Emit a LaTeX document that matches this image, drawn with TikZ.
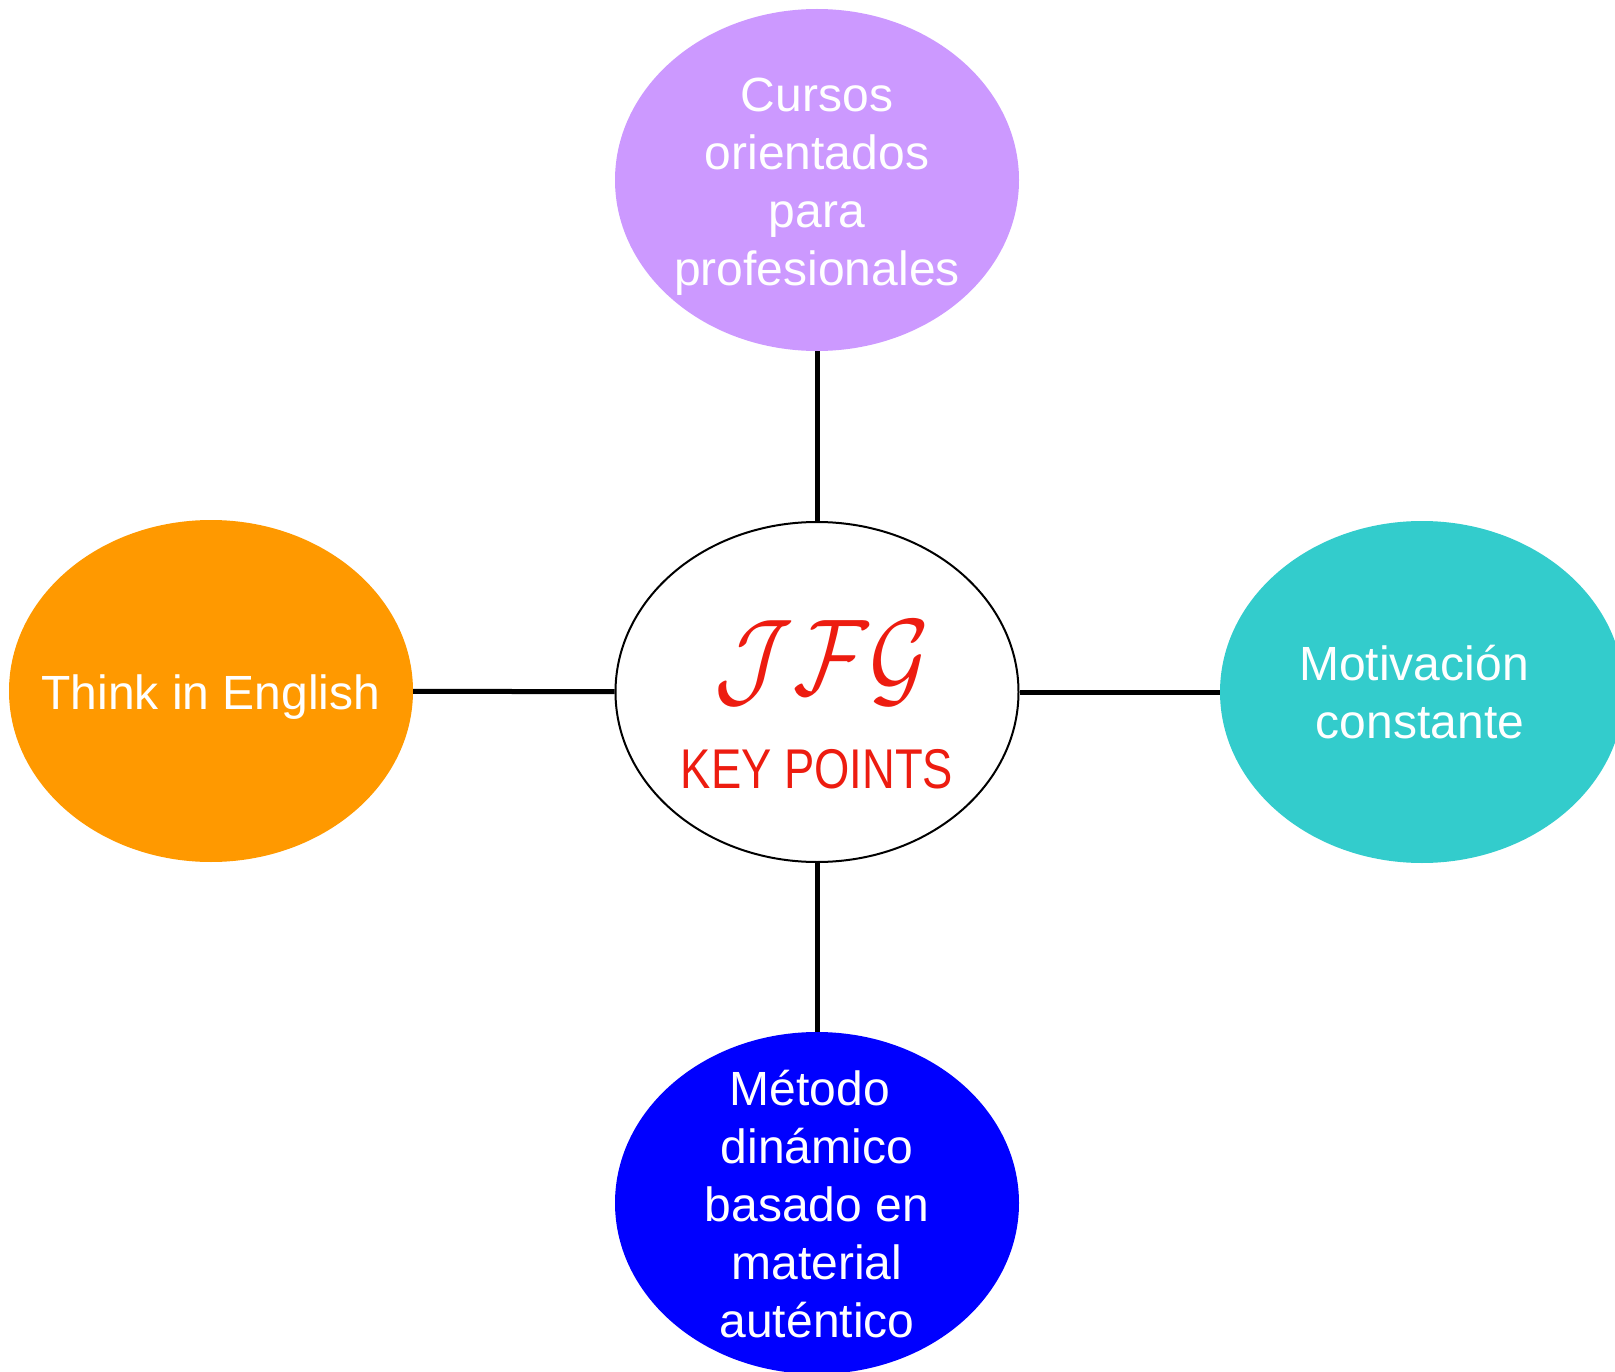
\documentclass[tikz,border=0pt]{standalone}
\usepackage{fontspec}
\usepackage{graphicx}
\setmainfont{Liberation Sans}
\newfontfamily\narrowfont[FakeStretch=0.81]{Liberation Sans}
\usetikzlibrary{shapes.geometric}
\definecolor{cpurple}{RGB}{204,153,255}
\definecolor{corange}{RGB}{255,153,0}
\definecolor{cteal}{RGB}{51,204,204}
\definecolor{cblue}{RGB}{0,0,255}
\definecolor{cred}{RGB}{237,28,16}
\begin{document}
\begin{tikzpicture}[x=1pt,y=-1pt,
  blob/.style={ellipse,minimum width=404pt,minimum height=342pt,inner sep=0pt,draw=none},
  blobtext/.style={text=white,align=center,font=\fontsize{48}{58}\selectfont,inner sep=0pt},
  link/.style={line width=5pt}]
\useasboundingbox (0,0) rectangle (1615,1372);
\node[blob,fill=cpurple] (top) at (817,180) {};
\node[blob,fill=corange] (left) at (211,691) {};
\node[blob,fill=cteal] (right) at (1422,692) {};
\node[blob,fill=cblue] (bottom) at (817,1203) {};
\node[ellipse,draw=black,line width=2pt,fill=white,minimum width=403pt,minimum height=340pt,inner sep=0pt] (center) at (817,692) {};
\draw[link] (top) -- (center);
\draw[link] (left) -- (center);
\draw[link] (right) -- (center);
\draw[link] (bottom) -- (center);
\node[blobtext] (toptext) at (817,187) {Cursos\\orientados\\para\\profesionales};
\node[blobtext] (lefttext) at (211,697) {Think in English};
\node[blobtext] (righttext) at (1420,692) {Motivación\hspace*{12pt}\\constante};
\node[blobtext] (bottomtext) at (817,1204) {Método\hspace*{14pt}\\dinámico\\basado en\\material\\auténtico};
\node[text=cred,inner sep=0pt,anchor=base] (jfg) at (822,694) {\scalebox{9.2}[10.8]{$\mathcal{JFG}$}};
\node[text=cred,inner sep=0pt,anchor=base] (kp) at (817,788) {\narrowfont\fontsize{56}{60}\selectfont KEY POINTS};
\end{tikzpicture}
\end{document}
